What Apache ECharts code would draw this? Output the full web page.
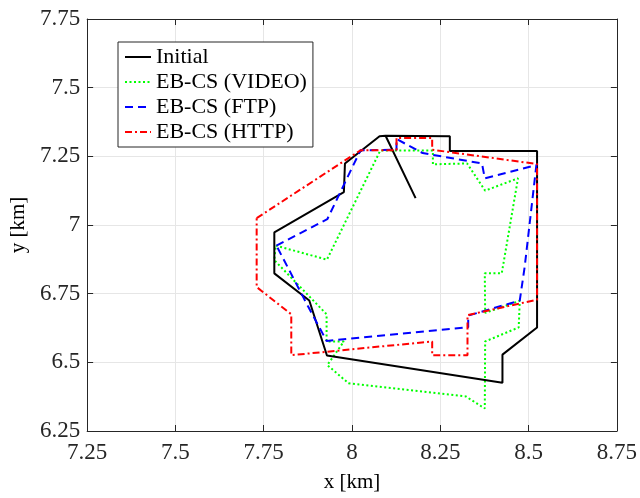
<!DOCTYPE html>
<html>
<head>
<meta charset="utf-8">
<script src="https://cdn.jsdelivr.net/npm/echarts@6/dist/echarts.min.js"></script>
<style>
html,body{margin:0;padding:0;background:#fff;}
#chart{width:640px;height:498px;}
</style>
</head>
<body>
<div id="chart"></div>
<script>
const seriesNames = ['Initial', 'EB-CS (VIDEO)', 'EB-CS (FTP)', 'EB-CS (HTTP)'];

const initialX = [8.18, 8.095, 8.277, 8.277, 8.524, 8.524, 8.426, 8.426, 7.929, 7.879, 7.78, 7.78, 7.977, 7.98, 8.078, 8.095];
const initialY = [7.098, 7.325, 7.323, 7.269, 7.269, 6.627, 6.528, 6.426, 6.525, 6.725, 6.824, 6.973, 7.120, 7.224, 7.323, 7.325];

const videoX = [7.784, 7.929, 8.08, 8.229, 8.229, 8.326, 8.377, 8.47, 8.424, 8.376, 8.377, 8.475, 8.472, 8.377, 8.376, 8.322, 7.99, 7.93, 7.977, 7.928, 7.928, 7.78, 7.784];
const videoY = [6.925, 6.874, 7.271, 7.271, 7.221, 7.224, 7.125, 7.17, 6.824, 6.824, 6.68, 6.724, 6.627, 6.576, 6.332, 6.376, 6.424, 6.49, 6.576, 6.576, 6.675, 6.872, 6.925];

const ftpX = [7.786, 7.93, 8.024, 8.126, 8.126, 8.2, 8.368, 8.376, 8.522, 8.489, 8.475, 8.329, 8.329, 7.928, 7.875, 7.786];
const ftpY = [6.925, 7.021, 7.272, 7.274, 7.313, 7.262, 7.224, 7.17, 7.218, 6.848, 6.725, 6.67, 6.628, 6.578, 6.705, 6.925];

const httpX = [7.73, 8.024, 8.126, 8.126, 8.227, 8.227, 8.524, 8.524, 8.327, 8.327, 8.227, 8.227, 7.828, 7.828, 7.73, 7.73];
const httpY = [7.025, 7.272, 7.272, 7.317, 7.317, 7.274, 7.222, 6.728, 6.672, 6.526, 6.526, 6.576, 6.526, 6.675, 6.774, 7.025];

const xTicks = [7.25, 7.5, 7.75, 8, 8.25, 8.5, 8.75];
const yTicks = [6.25, 6.5, 6.75, 7, 7.25, 7.5, 7.75];

function zip(xs, ys) { return xs.map((x, i) => [x, ys[i]]); }

const FONT = 'Liberation Serif, Times New Roman, serif';
const axisColor = '#262626';

const chart = echarts.init(document.getElementById('chart'), null, {renderer: 'canvas'});

function baseAxis(ticks, extra) {
  return Object.assign({
    type: 'value',
    min: ticks[0],
    max: ticks[ticks.length - 1],
    interval: ticks[1] - ticks[0],
    axisLine: {show: true, onZero: false, lineStyle: {color: axisColor, width: 1}},
    axisTick: {show: true, inside: true, length: 6, lineStyle: {color: axisColor}},
    splitLine: {show: false},
    axisLabel: {show: false}
  }, extra);
}

const option = {
  animation: false,
  backgroundColor: '#fff',
  grid: {left: 83, right: 20, top: 19, bottom: 61, containLabel: false},
  legend: {
    orient: 'vertical',
    left: 118,
    top: 42,
    data: seriesNames,
    backgroundColor: '#fff',
    borderColor: axisColor,
    borderWidth: 1,
    padding: [4, 6, 4, 6],
    itemGap: 3,
    itemWidth: 26,
    itemHeight: 14,
    itemStyle: {opacity: 0, borderWidth: 0},
    textStyle: {fontFamily: FONT, fontSize: 22, color: '#000', lineHeight: 22}
  },
  xAxis: [
    baseAxis(xTicks, {
      position: 'bottom',
      name: 'x [km]',
      nameLocation: 'middle',
      nameGap: 41,
      nameTextStyle: {fontFamily: FONT, fontSize: 21, color: '#000'},
      splitLine: {show: true, lineStyle: {color: '#e6e6e6', width: 1}},
      axisLabel: {show: true, margin: 10, fontFamily: FONT, fontSize: 23, color: axisColor,
        formatter: v => String(v)}
    }),
    baseAxis(xTicks, {position: 'top'})
  ],
  yAxis: [
    baseAxis(yTicks, {
      position: 'left',
      name: 'y [km]',
      nameLocation: 'middle',
      nameGap: 40,
      nameTextStyle: {fontFamily: FONT, fontSize: 21, color: '#000'},
      splitLine: {show: true, lineStyle: {color: '#e6e6e6', width: 1}},
      axisLabel: {show: true, margin: 7, fontFamily: FONT, fontSize: 23, color: axisColor,
        formatter: v => String(v)}
    }),
    baseAxis(yTicks, {position: 'right'})
  ],
  series: [
    {
      name: seriesNames[0], type: 'line', data: zip(initialX, initialY),
      showSymbol: false, symbol: 'none', z: 5,
      lineStyle: {color: '#000', width: 2, type: 'solid'},
      itemStyle: {color: '#000'}
    },
    {
      name: seriesNames[1], type: 'line', data: zip(videoX, videoY),
      showSymbol: false, symbol: 'none', z: 4,
      lineStyle: {color: '#00ff00', width: 2, type: [2, 2.5]},
      itemStyle: {color: '#00ff00'}
    },
    {
      name: seriesNames[2], type: 'line', data: zip(ftpX, ftpY),
      showSymbol: false, symbol: 'none', z: 6,
      lineStyle: {color: '#0000ff', width: 2, type: [8, 5]},
      itemStyle: {color: '#0000ff'}
    },
    {
      name: seriesNames[3], type: 'line', data: zip(httpX, httpY),
      showSymbol: false, symbol: 'none', z: 7,
      lineStyle: {color: '#ff0000', width: 2, type: [7, 3, 2, 3]},
      itemStyle: {color: '#ff0000'}
    }
  ]
};
chart.setOption(option);
</script>
</body>
</html>
